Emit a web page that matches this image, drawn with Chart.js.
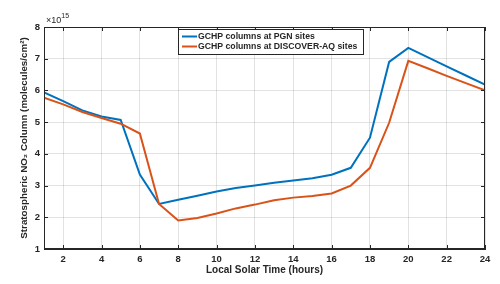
<!DOCTYPE html>
<html>
<head>
<meta charset="utf-8">
<script src="https://cdn.jsdelivr.net/npm/chart.js@4/dist/chart.umd.min.js"></script>
<style>
html,body{margin:0;padding:0;background:#fff;}
#wrap{width:500px;height:284px;position:relative;}
</style>
</head>
<body>
<div id="wrap"><canvas id="c" width="500" height="284"></canvas></div>
<script>
const hours = [1,2,3,4,5,6,7,8,9,10,11,12,13,14,15,16,17,18,19,20,21,22,23,24];
const pgn = [5.94,5.66,5.37,5.18,5.07,3.35,2.42,2.55,2.68,2.81,2.92,3.00,3.09,3.16,3.23,3.34,3.56,4.51,6.90,7.34,7.05,6.76,6.47,6.18];
const discover = [5.77,5.56,5.32,5.13,4.95,4.64,2.42,1.90,1.98,2.12,2.28,2.40,2.54,2.62,2.67,2.75,3.00,3.56,4.98,6.93,6.70,6.46,6.23,6.00];
const xTicks = [2,4,6,8,10,12,14,16,18,20,22,24];
const yTicks = [1,2,3,4,5,6,7,8];
const seriesLabels = ['GCHP columns at PGN sites','GCHP columns at DISCOVER-AQ sites'];
const xTitle = 'Local Solar Time (hours)';
const yTitle = 'Stratospheric NO\u2082 Column (molecules/cm\u00B2)';
const expBase = '\u00D710';
const expPow = '15';

const BLUE = '#0072BD', ORANGE = '#D95319', AX = '#262626';
const FONT = '"Liberation Sans", Arial, sans-serif';

const framePlugin = {
  id: 'frame',
  afterDraw(chart) {
    const ctx = chart.ctx, a = chart.chartArea;
    const xs = chart.scales.x, ys = chart.scales.y;
    ctx.save();
    ctx.strokeStyle = AX; ctx.lineWidth = 1;
    ctx.strokeRect(Math.round(a.left)+0.5, Math.round(a.top)+0.5, Math.round(a.right-a.left)-1, Math.round(a.bottom-a.top)-1);
    // inward ticks
    const tl = 4;
    ctx.beginPath();
    xTicks.forEach(v => {
      const px = Math.round(xs.getPixelForValue(v))+0.5;
      ctx.moveTo(px, a.bottom); ctx.lineTo(px, a.bottom - tl);
      ctx.moveTo(px, a.top); ctx.lineTo(px, a.top + tl);
    });
    yTicks.forEach(v => {
      const py = Math.round(ys.getPixelForValue(v))+0.5;
      ctx.moveTo(a.left, py); ctx.lineTo(a.left + tl, py);
      ctx.moveTo(a.right, py); ctx.lineTo(a.right - tl, py);
    });
    ctx.stroke();
    // exponent
    ctx.fillStyle = AX;
    ctx.textBaseline = 'alphabetic';
    ctx.textAlign = 'left';
    ctx.font = '9px ' + FONT;
    ctx.fillText(expBase, a.left + 2, a.top - 4);
    const w = ctx.measureText(expBase).width;
    ctx.font = '7px ' + FONT;
    ctx.fillText(expPow, a.left + 2 + w, a.top - 9);
    // legend
    const lx = 178, ly = 29, lw = 185, lh = 25;
    ctx.fillStyle = '#fff';
    ctx.fillRect(lx, ly, lw, lh);
    ctx.strokeStyle = AX; ctx.lineWidth = 1;
    ctx.strokeRect(lx+0.5, ly+0.5, lw, lh);
    ctx.font = 'bold 8.7px ' + FONT;
    ctx.textBaseline = 'middle';
    chart.data.datasets.forEach((ds, i) => {
      const yy = ly + 7.5 + i * 10;
      ctx.strokeStyle = ds.borderColor; ctx.lineWidth = 2;
      ctx.beginPath(); ctx.moveTo(lx + 4, yy); ctx.lineTo(lx + 19, yy); ctx.stroke();
      ctx.fillStyle = AX;
      ctx.fillText(ds.label, lx + 20, yy + 0.5);
    });
    ctx.restore();
  }
};

new Chart(document.getElementById('c'), {
  type: 'line',
  data: {
    labels: hours,
    datasets: [
      { label: seriesLabels[0], data: hours.map((h,i)=>({x:h,y:pgn[i]})), borderColor: BLUE, backgroundColor: BLUE, borderWidth: 2, pointRadius: 0, tension: 0, order: 1 },
      { label: seriesLabels[1], data: hours.map((h,i)=>({x:h,y:discover[i]})), borderColor: ORANGE, backgroundColor: ORANGE, borderWidth: 2, pointRadius: 0, tension: 0, order: 0 }
    ]
  },
  options: {
    responsive: false,
    animation: false,
    events: [],
    layout: { padding: { left: 0, top: 27, right: 15, bottom: 0 } },
    plugins: { legend: { display: false }, tooltip: { enabled: false } },
    scales: {
      x: {
        type: 'linear', min: 1, max: 24,
        afterBuildTicks: s => { s.ticks = xTicks.map(v => ({ value: v })); },
        afterFit: s => { s.height = 35; },
        grid: { color: 'rgba(38,38,38,0.13)', drawTicks: false },
        border: { color: AX, width: 1 },
        ticks: { color: AX, font: { family: FONT, size: 9.5, weight: 'bold' }, padding: 5, maxRotation: 0, autoSkip: false },
        title: { display: true, text: xTitle, color: AX, font: { family: FONT, size: 10, weight: 'bold' }, padding: { top: 0, bottom: 7.5 } }
      },
      y: {
        type: 'linear', min: 1, max: 8,
        afterBuildTicks: s => { s.ticks = yTicks.map(v => ({ value: v })); },
        afterFit: s => { s.width = 44; },
        grid: { color: 'rgba(38,38,38,0.13)', drawTicks: false },
        border: { color: AX, width: 1 },
        ticks: { color: AX, font: { family: FONT, size: 9.5, weight: 'bold' }, padding: 4, autoSkip: false },
        title: { display: true, text: yTitle, color: AX, font: { family: FONT, size: 9.8, weight: 'bold' }, padding: { top: 18, bottom: 0 } }
      }
    }
  },
  plugins: [framePlugin]
});
</script>
</body>
</html>
